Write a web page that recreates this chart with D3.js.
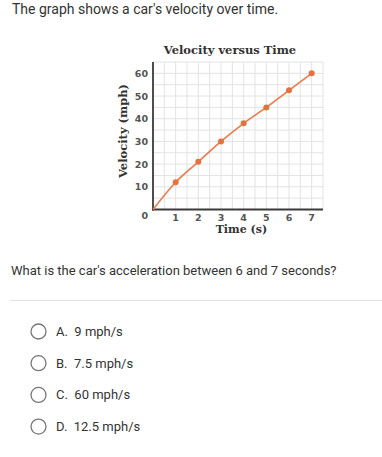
<!DOCTYPE html>
<html>
<head>
<meta charset="utf-8">
<script src="https://cdn.jsdelivr.net/npm/d3@7"></script>
<style>
  body { margin: 0; background: #fff; }
  svg { display: block; }
</style>
</head>
<body>
<div id="chart"></div>
<script>
// data
const times = [0, 1, 2, 3, 4, 5, 6, 7];
const velocities = [0, 12, 21, 30, 38, 45, 52.5, 60];
const xTicks = [1, 2, 3, 4, 5, 6, 7];
const yTicks = [10, 20, 30, 40, 50, 60];
const choices = ["A.  9 mph/s", "B.  7.5 mph/s", "C.  60 mph/s", "D.  12.5 mph/s"];

const W = 382, H = 457;
const svg = d3.select("#chart").append("svg")
  .attr("width", W)
  .attr("height", H);

const textFont = "Roboto, 'Noto Sans', sans-serif";
const slabFont = "'DejaVu Serif', serif";

// question header
svg.append("text")
  .attr("x", 12).attr("y", 14)
  .attr("font-family", textFont).attr("font-size", 14)
  .attr("fill", "#333")
  .text("The graph shows a car's velocity over time.");

// plot area
const x = d3.scaleLinear().domain([0, 7.5]).range([153, 323]);
const y = d3.scaleLinear().domain([0, 65]).range([209.5, 62]);

const g = svg.append("g");

// grid
g.append("g")
  .selectAll("line")
  .data(d3.range(0.5, 7.51, 0.5))
  .enter().append("line")
  .attr("x1", d => x(d)).attr("x2", d => x(d))
  .attr("y1", y(0)).attr("y2", y(65))
  .attr("stroke", "#e3e3e3").attr("stroke-width", 1);

g.append("g")
  .selectAll("line")
  .data(d3.range(5, 65.1, 5))
  .enter().append("line")
  .attr("x1", x(0)).attr("x2", x(7.5))
  .attr("y1", d => y(d)).attr("y2", d => y(d))
  .attr("stroke", "#e3e3e3").attr("stroke-width", 1);

// axes lines
g.append("line")
  .attr("x1", x(0)).attr("x2", x(0))
  .attr("y1", y(0) + 1).attr("y2", y(65))
  .attr("stroke", "#3a3a3a").attr("stroke-width", 1.8);
g.append("line")
  .attr("x1", x(0) - 1).attr("x2", x(7.5))
  .attr("y1", y(0)).attr("y2", y(0))
  .attr("stroke", "#3a3a3a").attr("stroke-width", 1.8);

// tick labels
g.append("g")
  .selectAll("text")
  .data(xTicks)
  .enter().append("text")
  .attr("x", d => x(d)).attr("y", y(0) + 11.5)
  .attr("text-anchor", "middle")
  .attr("font-family", "'DejaVu Sans', sans-serif").attr("font-weight", "bold")
  .attr("font-size", 9.5).attr("fill", "#555")
  .text(d => d);

g.append("g")
  .selectAll("text")
  .data(yTicks)
  .enter().append("text")
  .attr("x", x(0) - 5).attr("y", d => y(d) + 3.5)
  .attr("text-anchor", "end")
  .attr("font-family", "'DejaVu Sans', sans-serif").attr("font-weight", "bold")
  .attr("font-size", 9.5).attr("fill", "#555")
  .text(d => d);

g.append("text")
  .attr("x", x(0) - 5).attr("y", y(0) + 9)
  .attr("text-anchor", "end")
  .attr("font-family", "'DejaVu Sans', sans-serif").attr("font-weight", "bold")
  .attr("font-size", 9.5).attr("fill", "#555")
  .text("0");

// titles
svg.append("text")
  .attr("x", 230).attr("y", 54)
  .attr("text-anchor", "middle")
  .attr("font-family", slabFont).attr("font-weight", "bold")
  .attr("font-size", 11.5).attr("fill", "#333")
  .text("Velocity versus Time");

svg.append("text")
  .attr("x", x(3.9)).attr("y", 233)
  .attr("text-anchor", "middle")
  .attr("font-family", slabFont).attr("font-weight", "bold")
  .attr("font-size", 11).attr("fill", "#333")
  .text("Time (s)");

svg.append("text")
  .attr("transform", "translate(127," + 131 + ") rotate(-90)")
  .attr("text-anchor", "middle")
  .attr("font-family", slabFont).attr("font-weight", "bold")
  .attr("font-size", 11.5).attr("fill", "#333")
  .text("Velocity (mph)");

// line and points
const pts = times.map((t, i) => [t, velocities[i]]);
const line = d3.line()
  .x(d => x(d[0])).y(d => y(d[1]))
  .curve(d3.curveMonotoneX);

g.append("path")
  .datum(pts)
  .attr("d", line)
  .attr("fill", "none")
  .attr("stroke", "#ec7a4c")
  .attr("stroke-width", 1.6);

g.append("g")
  .selectAll("circle")
  .data(pts.slice(1))
  .enter().append("circle")
  .attr("cx", d => x(d[0])).attr("cy", d => y(d[1]))
  .attr("r", 3)
  .attr("fill", "#e8703f");

// question
svg.append("text")
  .attr("x", 11).attr("y", 275)
  .attr("font-family", textFont).attr("font-size", 13)
  .attr("fill", "#333")
  .text("What is the car's acceleration between 6 and 7 seconds?");

svg.append("line")
  .attr("x1", 10).attr("x2", 382)
  .attr("y1", 300.5).attr("y2", 300.5)
  .attr("stroke", "#e0e0e0").attr("stroke-width", 1);

// answer choices
const opt = svg.append("g")
  .selectAll("g")
  .data(choices)
  .enter().append("g")
  .attr("transform", (d, i) => "translate(0," + (331.5 + i * 31.7) + ")");

opt.append("circle")
  .attr("cx", 38.5).attr("cy", 0)
  .attr("r", 7.5)
  .attr("fill", "#fff")
  .attr("stroke", "#777").attr("stroke-width", 1.3);

opt.append("text")
  .attr("x", 56).attr("y", 4.5)
  .attr("font-family", textFont).attr("font-size", 13)
  .attr("fill", "#333")
  .attr("xml:space", "preserve")
  .style("white-space", "pre")
  .text(d => d);
</script>
</body>
</html>
